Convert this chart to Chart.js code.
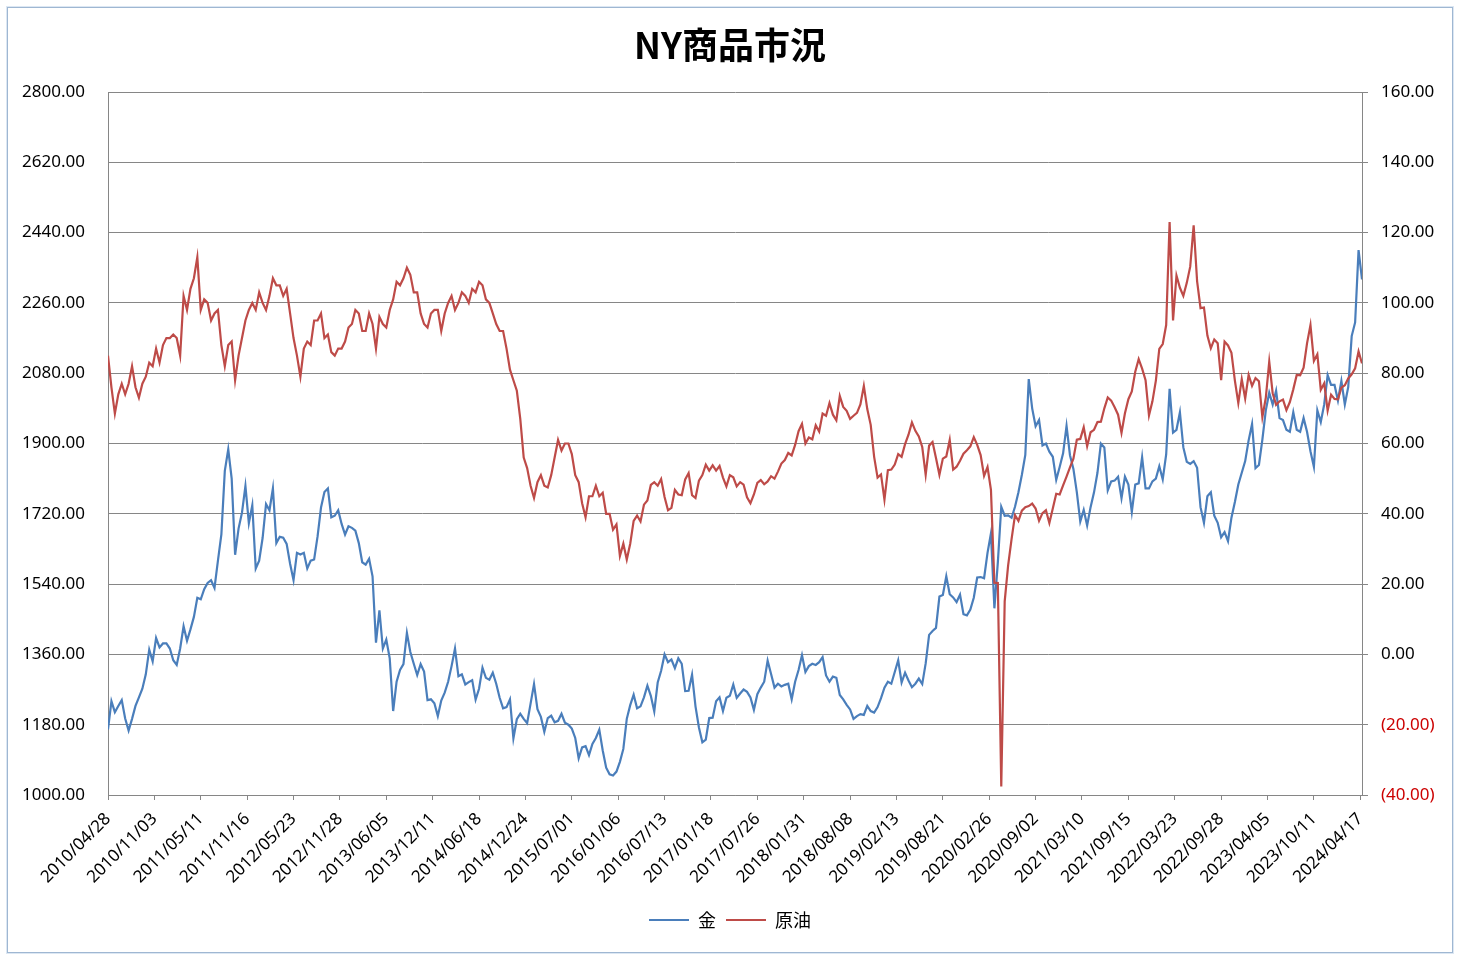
<!DOCTYPE html>
<html lang="ja">
<head>
<meta charset="utf-8">
<title>NY商品市況</title>
<script src="https://cdn.jsdelivr.net/npm/chart.js@4.4.1/dist/chart.umd.min.js"></script>
<style>
  html, body { margin: 0; padding: 0; background: #fff; }
  body { width: 1460px; height: 960px; position: relative; overflow: hidden; }
  #frame {
    position: absolute; left: 7px; top: 7px;
    width: 1444px; height: 944px;
    border: 1px solid #9FB7D2;
    box-shadow: 0 0 0 1px #DCE7F3;
    background: #fff;
  }
  canvas { display: block; }
</style>
</head>
<body>
<div id="frame"><canvas id="chart" width="1444" height="944"></canvas></div>
<script>
"use strict";

// one value every other Wednesday, first one 2010/04/28
const SAMPLE_WEEKS = 2;
// a date label every 27 weeks
const TICK_EVERY = 27;

const xTickLabels = [
  "2010/04/28", "2010/11/03", "2011/05/11", "2011/11/16", "2012/05/23", "2012/11/28",
  "2013/06/05", "2013/12/11", "2014/06/18", "2014/12/24", "2015/07/01", "2016/01/06",
  "2016/07/13", "2017/01/18", "2017/07/26", "2018/01/31", "2018/08/08", "2019/02/13",
  "2019/08/21", "2020/02/26", "2020/09/02", "2021/03/10", "2021/09/15", "2022/03/23",
  "2022/09/28", "2023/04/05", "2023/10/11", "2024/04/17",
];

// 金 (USD/oz), left axis
const goldPrices = [
  1168, 1240, 1212, 1228, 1243, 1196, 1165, 1195, 1228, 1250, 1272, 1309, 1372, 1342, 1402, 1378, 1388, 1388,                 // 2010
  1375, 1345, 1333, 1375, 1432, 1395, 1424, 1456, 1505, 1501, 1527, 1543, 1550, 1530, 1600, 1667, 1830, 1885, 1810, 1615, 1682, 1723, 1791, 1696, 1742, 1580, // 2011
  1600, 1658, 1745, 1729, 1785, 1645, 1661, 1659, 1643, 1592, 1550, 1620, 1616, 1620, 1580, 1600, 1603, 1662, 1736, 1776, 1785, 1711, 1715, 1729, 1694, 1667, // 2012
  1688, 1684, 1677, 1645, 1596, 1590, 1605, 1560, 1390, 1473, 1375, 1398, 1350, 1215, 1290, 1320, 1335, 1415, 1366, 1336, 1307, 1335, 1316, 1243, 1245, 1235, // 2013
  1202, 1242, 1262, 1290, 1330, 1375, 1304, 1309, 1283, 1289, 1294, 1244, 1272, 1326, 1300, 1295, 1313, 1285, 1249, 1222, 1225, 1245, 1145, 1194, 1208, 1195, 1184, // 2014
  1234, 1284, 1220, 1200, 1162, 1197, 1203, 1186, 1190, 1208, 1185, 1180, 1170, 1146, 1094, 1122, 1125, 1102, 1131, 1146, 1167, 1114, 1070, 1053, 1050, 1060, // 2015
  1085, 1118, 1195, 1230, 1257, 1222, 1227, 1250, 1280, 1254, 1214, 1288, 1318, 1360, 1340, 1347, 1325, 1350, 1336, 1266, 1267, 1308, 1227, 1173, 1135, 1142, // 2016
  1197, 1198, 1240, 1250, 1215, 1249, 1254, 1283, 1249, 1260, 1270, 1264, 1250, 1218, 1258, 1275, 1290, 1344, 1310, 1275, 1285, 1278, 1282, 1285, 1245, 1290, // 2017
  1320, 1358, 1315, 1330, 1336, 1333, 1340, 1353, 1306, 1290, 1303, 1300, 1256, 1245, 1231, 1219, 1195, 1202, 1207, 1205, 1228, 1215, 1211, 1225, 1248, 1275, // 2018
  1290, 1285, 1315, 1345, 1288, 1313, 1293, 1276, 1285, 1298, 1284, 1337, 1410, 1420, 1428, 1508, 1512, 1560, 1514, 1506, 1494, 1513, 1463, 1460, 1475, 1505, // 2019
  1557, 1558, 1555, 1620, 1670, 1478, 1595, 1738, 1715, 1716, 1710, 1738, 1775, 1820, 1871, 2065, 1990, 1944, 1960, 1895, 1900, 1879, 1866, 1807, 1840, 1875, // 2020
  1945, 1870, 1835, 1775, 1700, 1730, 1690, 1737, 1775, 1825, 1900, 1890, 1780, 1803, 1805, 1815, 1760, 1815, 1795, 1725, 1795, 1798, 1865, 1785, 1785, 1803, // 2021
  1810, 1842, 1808, 1872, 2040, 1928, 1935, 1980, 1890, 1853, 1848, 1855, 1838, 1737, 1697, 1765, 1775, 1715, 1697, 1660, 1673, 1650, 1710, 1750, 1795, 1825, // 2022
  1855, 1908, 1950, 1837, 1845, 1910, 1985, 2030, 2000, 2035, 1965, 1960, 1935, 1930, 1980, 1935, 1930, 1965, 1930, 1880, 1840, 1985, 1955, 2000, 2075, 2050, // 2023
  2050, 2010, 2060, 2000, 2045, 2175, 2210, 2395, 2320,                                                                       // 2024
];

// 原油 (WTI, USD/bbl), right axis
const oilPrices = [
  85, 76, 68.5, 74, 77, 74, 77, 82, 76, 73, 77, 79, 83, 82, 87, 83, 88, 90,                                                     // 2010
  90, 91, 90, 85, 102, 98, 104, 107, 113, 98, 101, 100, 95, 97, 98, 88, 82, 88, 89, 78, 85, 90, 95, 98, 100, 98,               // 2011
  103, 100, 98, 102, 107, 105, 105, 102, 104, 97, 90, 85, 79, 87, 89, 88, 95, 95, 97, 90, 91, 86, 85, 87, 87, 89,              // 2012
  93, 94, 98, 97, 92, 92, 97, 94, 87, 96, 94, 93, 98, 101, 106, 105, 107, 110, 108, 103, 103, 97, 94, 93, 97, 98,              // 2013
  98, 92, 97, 100, 102, 98, 100, 103, 102, 100, 104, 103, 106, 105, 101, 100, 97, 94, 92, 92, 87, 81, 78, 75, 67, 56, 53,      // 2014
  48, 44.5, 49, 51, 48, 47.5, 51, 56, 61, 58, 60, 60, 57, 51, 49, 43, 39, 45, 45, 48, 45, 46, 40, 40, 35.5, 37,                // 2015
  28, 31.5, 27, 31.5, 38, 39.5, 37.8, 42.6, 43.8, 48.2, 49, 48, 49.9, 44.8, 41, 41.7, 46.8, 45.5, 45.3, 49.8, 51.6, 45.3, 44.5, 49.4, 51, 54, // 2016
  52.3, 53.8, 52.3, 53.6, 50.3, 47.8, 51, 50.4, 47.8, 49, 48.3, 44.7, 43, 45.5, 48.8, 49.6, 48.4, 49.2, 50.7, 50, 52, 54.3, 55.3, 57.3, 56.6, 59.6, // 2017
  63.5, 65.6, 60, 61.7, 61.2, 65.2, 63.4, 68.5, 67.9, 71.5, 68.2, 66.6, 73.5, 70.4, 69.3, 67, 67.9, 68.7, 71.1, 76.4, 69.8, 65.3, 56.2, 50.3, 51.2, 44, // 2018
  52.4, 52.6, 54, 57, 56.2, 59.8, 62.5, 66, 63.6, 62, 59, 51.1, 59.4, 60.4, 55.9, 51.1, 55.7, 56.3, 61, 52.6, 53.4, 55.1, 57.1, 58.1, 59.2, 61.8, // 2019
  59.6, 56.7, 50.8, 53.3, 46.8, 20.4, 20.3, -37.6, 15.1, 25.3, 32.8, 39.6, 38, 40.9, 41.9, 42.2, 42.9, 41.5, 38, 40.2, 41, 37.4, 41.5, 45.7, 45.5, 48.1, // 2020
  50.6, 53.2, 55.7, 61.1, 61.3, 64.6, 59.2, 63.2, 63.9, 66.1, 66.2, 70, 73.1, 72.2, 70.3, 68.2, 63, 68.6, 72.6, 74.8, 80.4, 84, 81.3, 78, 68, 72, // 2021
  77.9, 86.9, 88.3, 93.7, 123, 95, 107.8, 104.3, 102, 105.7, 110.3, 122.1, 106.2, 98.5, 98.7, 90.7, 87.1, 89.6, 88.5, 78, 89, 87.9, 85.8, 77.9, 71.5, 78.3, // 2022
  72.8, 79.5, 76.4, 78.6, 77.7, 67.5, 73, 83.3, 74.3, 71, 72, 72.5, 69.5, 71.8, 75.4, 79.5, 79.4, 81.6, 88.5, 93.7, 83.5, 85.4, 75.3, 77.1, 69.4, 73.9, // 2023
  72.7, 72.6, 75.9, 76.6, 78.5, 79.7, 81.4, 86.2, 82.8,                                                                        // 2024
];

const GRID = "#868686";
const FONT = '"Noto Sans", "Noto Sans CJK JP", sans-serif';
const CJK = '"Noto Sans CJK JP", "Noto Sans", sans-serif';

const toPoints = arr => arr.map((v, i) => ({ x: i * SAMPLE_WEEKS, y: v }));
const lastWeek = (goldPrices.length - 1) * SAMPLE_WEEKS;

const fmt = v => v < 0 ? "(" + Math.abs(v).toFixed(2) + ")" : v.toFixed(2);

new Chart(document.getElementById("chart"), {
  type: "line",
  data: {
    datasets: [
      {
        label: "金",
        data: toPoints(goldPrices),
        yAxisID: "y",
        borderColor: "#4A7EBB",
        backgroundColor: "#4A7EBB",
        borderWidth: 2.2,
        pointRadius: 0,
        tension: 0,
        order: 1,
      },
      {
        label: "原油",
        data: toPoints(oilPrices),
        yAxisID: "y2",
        borderColor: "#BE4B48",
        backgroundColor: "#BE4B48",
        borderWidth: 2.2,
        pointRadius: 0,
        tension: 0,
        order: 0,
      },
    ],
  },
  options: {
    responsive: false,
    animation: false,
    events: [],
    layout: { padding: { left: 0, right: 0, top: 0, bottom: 13 } },
    plugins: {
      title: {
        display: true,
        text: "NY商品市況",
        color: "#000",
        font: { family: CJK, size: 36, weight: "bold" },
        padding: { top: 15.4, bottom: 25.4 },
      },
      legend: {
        position: "bottom",
        labels: {
          color: "#000",
          font: { family: CJK, size: 18 },
          usePointStyle: true,
          pointStyle: "line",
          pointStyleWidth: 40,
          padding: 10,
          sort: (a, b) => a.datasetIndex - b.datasetIndex,
        },
      },
      tooltip: { enabled: false },
    },
    scales: {
      x: {
        type: "linear",
        min: 0,
        max: lastWeek,
        afterBuildTicks: s => { s.ticks = xTickLabels.map((_, i) => ({ value: i * TICK_EVERY })); },
        afterFit: s => { s.height = 106; },
        grid: { drawOnChartArea: false, drawTicks: true, tickLength: 5, color: GRID },
        border: { display: true, color: GRID },
        ticks: {
          autoSkip: false,
          maxRotation: 45,
          minRotation: 45,
          padding: 9,
          color: "#000",
          font: { family: FONT, size: 17 },
          callback: (v, i) => xTickLabels[i],
        },
      },
      y: {
        position: "left",
        min: 1000,
        max: 2800,
        afterFit: s => { s.width = 100; },
        grid: { color: GRID, drawTicks: false },
        border: { display: true, color: GRID },
        ticks: {
          stepSize: 180,
          padding: 23,
          color: "#000",
          font: { family: FONT, size: 17 },
          callback: v => v.toFixed(2),
        },
      },
      y2: {
        position: "right",
        min: -40,
        max: 160,
        afterFit: s => { s.width = 90; },
        grid: { drawOnChartArea: false, drawTicks: true, tickLength: 6, color: GRID },
        border: { display: true, color: GRID },
        ticks: {
          stepSize: 20,
          padding: 13,
          color: c => (c.tick && c.tick.value < 0) ? "#CC0000" : "#000",
          font: { family: FONT, size: 17 },
          callback: v => fmt(v),
        },
      },
    },
  },
});
</script>
</body>
</html>
